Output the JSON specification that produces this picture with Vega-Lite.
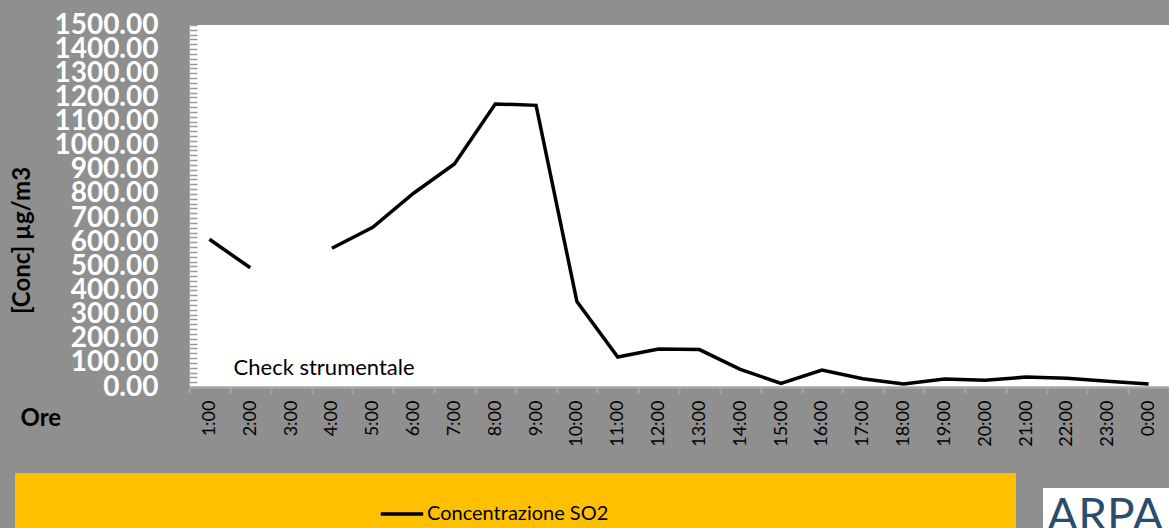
{
  "$schema": "https://vega.github.io/schema/vega-lite/v6.json",
  "width": 980,
  "height": 362,
  "autosize": {"type": "none"},
  "padding": {"left": 189, "top": 25, "right": 0, "bottom": 141},
  "background": "#8f8f8f",
  "view": {"fill": "white", "stroke": null},
  "data": {"values": [
    {"hour": "1:00", "conc": 612},
    {"hour": "2:00", "conc": 494},
    {"hour": "3:00", "conc": null},
    {"hour": "4:00", "conc": 575},
    {"hour": "5:00", "conc": 662},
    {"hour": "6:00", "conc": 803},
    {"hour": "7:00", "conc": 924},
    {"hour": "8:00", "conc": 1173},
    {"hour": "9:00", "conc": 1167},
    {"hour": "10:00", "conc": 354},
    {"hour": "11:00", "conc": 124},
    {"hour": "12:00", "conc": 157},
    {"hour": "13:00", "conc": 155},
    {"hour": "14:00", "conc": 73},
    {"hour": "15:00", "conc": 15},
    {"hour": "16:00", "conc": 70},
    {"hour": "17:00", "conc": 34},
    {"hour": "18:00", "conc": 12},
    {"hour": "19:00", "conc": 33},
    {"hour": "20:00", "conc": 28},
    {"hour": "21:00", "conc": 41},
    {"hour": "22:00", "conc": 36},
    {"hour": "23:00", "conc": 24},
    {"hour": "0:00", "conc": 12}
  ]},
  "encoding": {
    "x": {
      "field": "hour", "type": "ordinal", "sort": null, "bandPosition": 0.5,
      "scale": {"type": "band", "paddingInner": 0, "paddingOuter": 0,
        "domain": ["1:00","2:00","3:00","4:00","5:00","6:00","7:00","8:00","9:00","10:00","11:00","12:00","13:00","14:00","15:00","16:00","17:00","18:00","19:00","20:00","21:00","22:00","23:00","0:00"]},
      "axis": {
        "title": "Ore", "titleFont": "Lato", "titleFontSize": 24, "titleFontWeight": "bold", "titleColor": "black",
        "titleX": -169, "titleY": 31, "titleAlign": "left", "titleBaseline": "middle", "titleAngle": 0,
        "labelAngle": -90, "labelAlign": "right", "labelBaseline": "middle", "labelFont": "Lato", "labelFontSize": 18, "labelColor": "black", "labelPadding": 7,
        "tickBand": "extent", "tickSize": 6, "tickColor": "#a6a6a6", "tickWidth": 2,
        "domainColor": "#a6a6a6", "domainWidth": 2.5, "grid": false
      }
    },
    "y": {
      "field": "conc", "type": "quantitative",
      "scale": {"domain": [0, 1500], "nice": false, "zero": true},
      "axis": {
        "values": [0,20,40,60,80,100,120,140,160,180,200,220,240,260,280,300,320,340,360,380,400,420,440,460,480,500,520,540,560,580,600,620,640,660,680,700,720,740,760,780,800,820,840,860,880,900,920,940,960,980,1000,1020,1040,1060,1080,1100,1120,1140,1160,1180,1200,1220,1240,1260,1280,1300,1320,1340,1360,1380,1400,1420,1440,1460,1480,1500],
        "labelExpr": "datum.value % 100 === 0 ? format(datum.value, '.2f') : ''",
        "labelFont": "Lato", "labelFontWeight": "bold", "labelFontSize": 28, "labelColor": "white", "labelPadding": 21,
        "labelOverlap": false, "labelFlush": false, "labelBound": false, "labelBaseline": "middle",
        "tickSize": 10, "tickColor": "#8c8c8c", "tickWidth": 2,
        "tickOpacity": {"condition": {"test": "datum.value % 100 === 0", "value": 1}, "value": 0},
        "grid": true, "gridColor": "#9a9a9a", "gridWidth": 1.5, "gridDash": [8, 4000],
        "domain": true, "domainColor": "#a6a6a6", "domainWidth": 1,
        "title": "[Conc] µg/m3", "titleFont": "Lato", "titleFontSize": 24, "titleFontWeight": "bold", "titleColor": "black",
        "titleX": -167, "titleY": 215, "titleAngle": -90, "titleAlign": "center", "titleBaseline": "middle"
      }
    }
  },
  "layer": [
    {
      "mark": {"type": "line", "strokeWidth": 3.5, "invalid": "break-paths-show-domains", "strokeJoin": "miter"},
      "encoding": {
        "color": {
          "datum": "Concentrazione SO2", "type": "nominal",
          "scale": {"range": ["#000000"]},
          "legend": {
            "orient": "none", "legendX": -174, "legendY": 448,
            "fillColor": "#FFC000", "padding": 18,
            "symbolType": "stroke", "symbolStrokeWidth": 3.5, "symbolSize": 1800, "symbolOffset": 346,
            "labelFont": "Lato", "labelFontSize": 20, "labelColor": "black", "labelOffset": 2, "labelLimit": 400,
            "title": " ", "titleOrient": "right", "titlePadding": 390
          }
        },
        "opacity": {
          "datum": "ARPA", "type": "nominal",
          "scale": {"range": [1]},
          "legend": {
            "orient": "none", "legendX": 854, "legendY": 463,
            "fillColor": "#ffffff", "padding": 6, "title": null,
            "symbolSize": 0, "symbolOffset": 0, "symbolStrokeWidth": 0, "labelOffset": -48,
            "labelFont": "Lato", "labelFontSize": 46, "labelColor": "#2a4d6e", "labelLimit": 400
          }
        }
      }
    },
    {
      "data": {"values": [{"hour": "3:00", "conc": 78, "note": "Check strumentale"}]},
      "mark": {"type": "text", "font": "Lato", "fontSize": 22, "color": "black", "dx": 33, "baseline": "middle", "align": "center"},
      "encoding": {"text": {"field": "note"}}
    }
  ]
}
